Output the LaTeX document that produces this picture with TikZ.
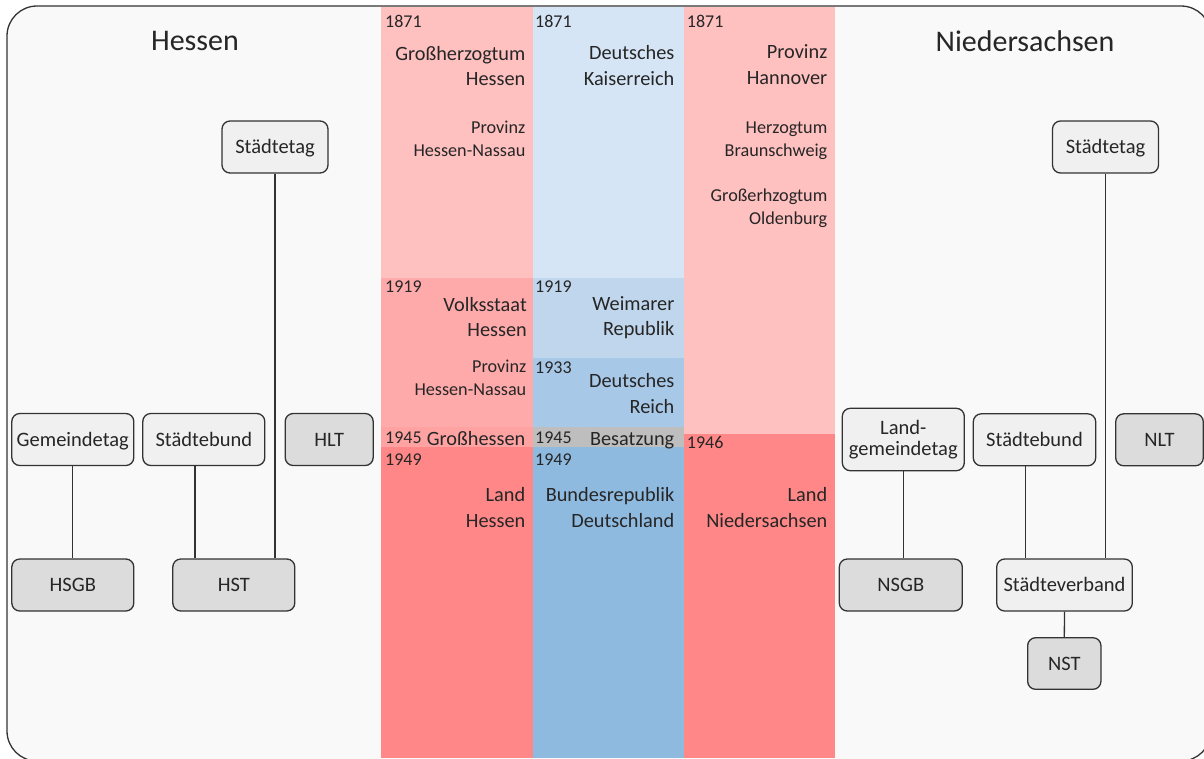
\documentclass[tikz,border=0pt]{standalone}
\usepackage{fontspec}
\setmainfont{Carlito}
\definecolor{frameFill}{HTML}{F9F9F9}
\definecolor{lineC}{HTML}{333333}
\definecolor{txtC}{HTML}{262626}
\definecolor{boxLight}{HTML}{F0F0F0}
\definecolor{boxDark}{HTML}{DCDCDC}
\definecolor{pinkA}{HTML}{FFC0C0}
\definecolor{pinkB}{HTML}{FFAAAA}
\definecolor{pinkC}{HTML}{FFA2A2}
\definecolor{pinkD}{HTML}{FF8787}
\definecolor{blueA}{HTML}{D5E5F5}
\definecolor{blueB}{HTML}{C0D6EC}
\definecolor{blueC}{HTML}{A8C8E8}
\definecolor{grayB}{HTML}{BEBEBE}
\definecolor{blueD}{HTML}{8FBAE0}
\begin{document}
\begin{tikzpicture}[x=1pt,y=-1pt,
  boxbase/.style={draw=lineC, line width=1.3pt, rounded corners=8pt, minimum height=52pt,
    inner sep=0pt, text=txtC, font=\fontsize{20.5}{20.5}\selectfont},
  box/.style={boxbase, text height=13pt, text depth=0pt},
  lbox/.style={box, fill=boxLight},
  dbox/.style={box, fill=boxDark},
  conn/.style={draw=lineC, line width=1.3pt},
  yr/.style={anchor=base west, inner sep=0pt, text=txtC, font=\fontsize{18}{18}\selectfont},
  bigtxt/.style={anchor=north east, inner sep=0pt, align=right, text=txtC, font=\fontsize{20.3}{25.5}\selectfont},
  smalltxt/.style={anchor=north east, inner sep=0pt, align=right, text=txtC, font=\fontsize{18.2}{23}\selectfont},
  title/.style={anchor=base, inner sep=0pt, text=txtC, font=\fontsize{30}{30}\selectfont}
]
\useasboundingbox (0,0) rectangle (1204,758);
\fill[white] (0,0) rectangle (1204,758);
\clip (0,0) rectangle (1204,758);
\fill[frameFill, rounded corners=30pt] (7,6) rectangle (1211,761);

% columns
\fill[pinkA] (381,6.5) rectangle (533,278);
\fill[pinkB] (381,278) rectangle (533,427.3);
\fill[pinkC] (381,427.3) rectangle (533,446.7);
\fill[pinkD] (381,446.7) rectangle (533,758);
\fill[blueA] (533,6.5) rectangle (684,278);
\fill[blueB] (533,278) rectangle (684,358);
\fill[blueC] (533,358) rectangle (684,427.3);
\fill[grayB] (533,427.3) rectangle (684,446.7);
\fill[blueD] (533,446.7) rectangle (684,758);
\fill[pinkA] (684,6.5) rectangle (835,434);
\fill[pinkD] (684,434) rectangle (835,758);

\draw[lineC, line width=1.3pt, rounded corners=30pt] (7,6) rectangle (1211,761);

% titles
\node[title] (tH) at (195,50.7) {Hessen};
\node[title] (tN) at (1025,51.5) {Niedersachsen};

% column 1
\node[yr] (y1a) at (385,27) {1871};
\node[bigtxt] (c1a) at (525.5,42.2) {\strut Großherzogtum\\\strut Hessen};
\node[smalltxt] (c1b) at (525.5,117.2) {\strut Provinz\\\strut Hessen-Nassau};
\node[yr] (y1b) at (385,292.7) {1919};
\node[bigtxt] (c1c) at (527,293.2) {\strut Volksstaat\\\strut Hessen};
\node[smalltxt] (c1d) at (526.5,356.2) {\strut Provinz\\\strut Hessen-Nassau};
\node[yr] (y1c) at (385,443.3) {1945};
\node[bigtxt] (c1e) at (525.5,427.2) {\strut Großhessen};
\node[yr] (y1d) at (385,465.7) {1949};
\node[bigtxt] (c1f) at (525.5,483.9) {\strut Land\\\strut Hessen};

% column 2
\node[yr] (y2a) at (535,27) {1871};
\node[bigtxt] (c2a) at (674.5,41.5) {\strut Deutsches\\\strut Kaiserreich};
\node[yr] (y2b) at (535,292.7) {1919};
\node[bigtxt] (c2b) at (674.5,292.2) {\strut Weimarer\\\strut Republik};
\node[yr] (y2c) at (535,373.3) {1933};
\node[bigtxt] (c2c) at (674.5,369.5) {\strut Deutsches\\\strut Reich};
\node[yr] (y2d) at (535,443.3) {1945};
\node[bigtxt] (c2d) at (674.5,427.2) {\strut Besatzung};
\node[yr] (y2e) at (535,465.7) {1949};
\node[bigtxt] (c2e) at (674.5,483.9) {\strut Bundesrepublik\\\strut Deutschland};

% column 3
\node[yr] (y3a) at (686.7,27) {1871};
\node[bigtxt] (c3a) at (827.5,40.7) {\strut Provinz\\\strut Hannover};
\node[smalltxt] (c3b) at (827.5,117.2) {\strut Herzogtum\\\strut Braunschweig};
\node[smalltxt] (c3c) at (827.5,185.6) {\strut Großerhzogtum\\\strut Oldenburg};
\node[yr] (y3b) at (686.7,448.3) {1946};
\node[bigtxt] (c3d) at (827.5,483.9) {\strut Land\\\strut Niedersachsen};

% Hessen boxes
\node[lbox, minimum width=106pt] (hstt) at (275,147) {Städtetag};
\node[lbox, minimum width=122pt] (hgt) at (72.8,439.5) {Gemeindetag};
\node[lbox, minimum width=122pt] (hsb) at (203.8,439.5) {Städtebund};
\node[dbox, minimum width=88pt] (hlt) at (329.2,439.5) {HLT};
\node[dbox, minimum width=122pt] (hsgb) at (72.8,585) {HSGB};
\node[dbox, minimum width=122pt] (hst) at (233.8,585) {HST};

\draw[conn] (hgt.south) -- (hsgb.north -| hgt.south);
\draw[conn] ([xshift=-8.8pt]hsb.south) -- ([xshift=-8.8pt]hsb.south |- hst.north);
\draw[conn] (hstt.south) -- (hst.north -| hstt.south);

% Niedersachsen boxes
\node[lbox, minimum width=106pt] (nstt) at (1105.5,147) {Städtetag};
\node[boxbase, fill=boxLight, minimum width=122pt, minimum height=62.4pt, align=center] (nlgt) at (903.3,439.5) {Land-\\gemeindetag};
\node[lbox, minimum width=122.4pt] (nsb) at (1034.5,439.8) {Städtebund};
\node[dbox, minimum width=87.6pt] (nlt) at (1159.5,439.8) {NLT};
\node[dbox, minimum width=123pt] (nsgb) at (900.8,585) {NSGB};
\node[lbox, minimum width=135.6pt] (nsv) at (1064.5,585) {Städteverband};
\node[dbox, minimum width=73.3pt, minimum height=51.6pt] (nst) at (1064.3,663.5) {NST};

\draw[conn] (nlgt.south) -- (nsgb.north -| nlgt.south);
\draw[conn] ([xshift=-8.8pt]nsb.south) -- ([xshift=-8.8pt]nsb.south |- nsv.north);
\draw[conn] (nstt.south) -- (nsv.north -| nstt.south);
\draw[conn] (nsv.south) -- (nst.north);
\end{tikzpicture}
\end{document}
